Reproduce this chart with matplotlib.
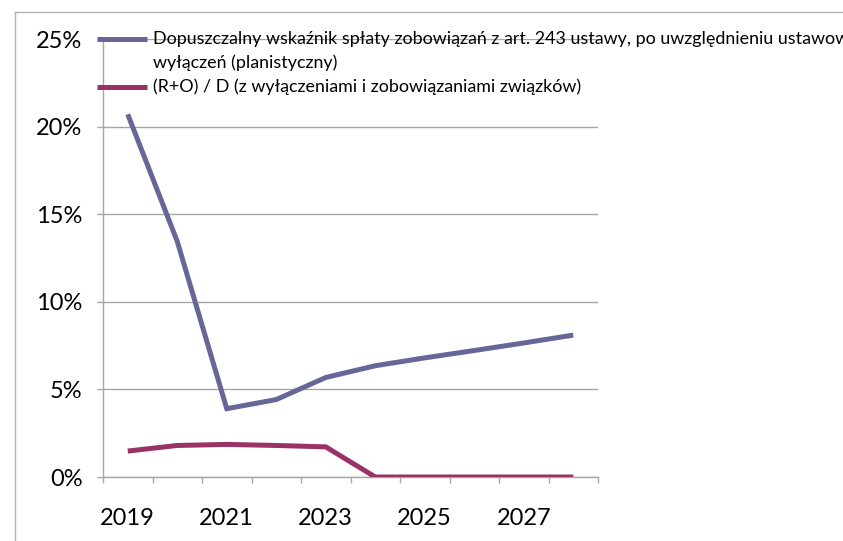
import matplotlib
matplotlib.use('Agg')
import matplotlib.pyplot as plt
from matplotlib.lines import Line2D
import numpy as np

plt.rcParams['font.family'] = ['Lato', 'DejaVu Sans']

years = [2019, 2020, 2021, 2022, 2023, 2024, 2025, 2026, 2027, 2028]
label_years = ['2019', '2021', '2023', '2025', '2027']
blue_vals = [20.7, 13.45, 3.9, 4.42, 5.68, 6.35, 6.8, 7.22, 7.65, 8.1]
red_vals = [1.48, 1.80, 1.86, 1.80, 1.72, 0.0, 0.0, 0.0, 0.0, 0.0]
y_ticks = [0, 5, 10, 15, 20, 25]
series_names = [
    ["Dopuszczalny wskaźnik spłaty zobowiązań z art. 243 ustawy, po uwzględnieniu ustawowych",
     "wyłączeń (planistyczny)"],
    ["(R+O) / D (z wyłączeniami i zobowiązaniami związków)"],
]

W, H = 843, 541
BLUE = '#666699'
RED = '#993366'
GRID = '#a6a6a6'

fig = plt.figure(figsize=(W / 100, H / 100), dpi=100)
ax = fig.add_axes([103 / W, (H - 477) / H, 495 / W, 438 / H])

x = np.arange(len(years))
ax.plot(x, np.array(blue_vals) / 100, color=BLUE, lw=3.6,
        solid_joinstyle='miter', solid_capstyle='butt', zorder=3)
ax.plot(x, np.array(red_vals) / 100, color=RED, lw=3.6,
        solid_joinstyle='miter', solid_capstyle='butt', zorder=3)

ax.set_xlim(-0.5, len(years) - 0.5)
ax.set_ylim(0, 0.25)
ax.set_yticks([v / 100 for v in y_ticks])
ax.set_yticklabels([f'{v}%' for v in y_ticks])
ax.set_xticks(x[::2])
ax.set_xticklabels(label_years)
ax.set_xticks(np.arange(-0.5, len(years), 1), minor=True)

ax.grid(axis='y', color=GRID, lw=1.0)
ax.set_axisbelow(True)
for s in ['top', 'right']:
    ax.spines[s].set_visible(False)
for s in ['left', 'bottom']:
    ax.spines[s].set_color(GRID)
    ax.spines[s].set_linewidth(1.0)

ax.tick_params(axis='y', length=4.3, color=GRID, width=1.0, pad=10.5,
               labelsize=17, labelcolor='black')
ax.tick_params(axis='x', which='major', length=0, pad=22.5, labelsize=17,
               labelcolor='black')
ax.tick_params(axis='x', which='minor', length=4.3, color=GRID, width=1.0)

# chart border
fig.add_artist(Line2D([15 / W, 1.0], [1 - 12 / H, 1 - 12 / H], color='#b3b3b3', lw=1.0))
fig.add_artist(Line2D([15 / W, 15 / W], [0, 1 - 12 / H], color='#b3b3b3', lw=1.0))

# legend (manual, upper left, overlapping plot)
leg_fs = 12.9
fig.add_artist(Line2D([97 / W, 147 / W], [1 - 39 / H] * 2, color=BLUE, lw=3.6,
                      solid_capstyle='butt'))
fig.text(153 / W, 1 - 39 / H, series_names[0][0], fontsize=leg_fs, va='center', ha='left')
fig.text(153 / W, 1 - 63 / H, series_names[0][1], fontsize=leg_fs, va='center', ha='left')
fig.add_artist(Line2D([97 / W, 147 / W], [1 - 87 / H] * 2, color=RED, lw=3.6,
                      solid_capstyle='butt'))
fig.text(153 / W, 1 - 87 / H, series_names[1][0], fontsize=leg_fs, va='center', ha='left')

fig.savefig('out.png', dpi=100)
